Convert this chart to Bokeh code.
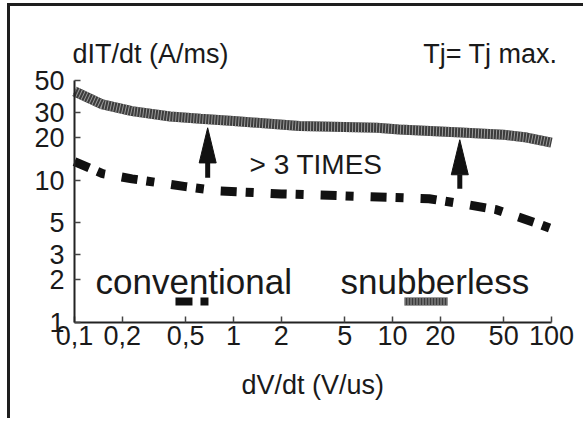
from bokeh.plotting import figure
from bokeh.models import Range1d, FixedTicker, Label
from bokeh.embed import file_html
from bokeh.resources import INLINE

# ---- data ----
x_ticks = [0.1, 0.2, 0.5, 1, 2, 5, 10, 20, 50, 100]
x_tick_labels = ["0,1", "0,2", "0,5", "1", "2", "5", "10", "20", "50", "100"]
y_ticks = [1, 2, 3, 5, 10, 20, 30, 50]
y_tick_labels = ["1", "2", "3", "5", "10", "20", "30", "50"]

snub_x = [0.1, 0.15, 0.23, 0.4, 0.62, 1, 2.6, 8, 11, 27, 50, 70, 100]
snub_y = [42, 34, 30.5, 28, 27, 26, 24, 23.3, 22.7, 21.6, 20.8, 19.9, 18.3]

conv_x = [0.1, 0.15, 0.23, 0.5, 0.8, 2, 5, 10, 17, 30, 45, 62, 80, 100]
conv_y = [13.5, 11.1, 10.2, 9.0, 8.4, 8.0, 7.75, 7.55, 7.4, 6.7, 6.2, 5.5, 5.0, 4.55]

arrow_x = [0.688, 26.5]
arrow_tip = [23.3, 19.2]
arrow_base = [13.2, 10.9]
arrow_tail = [10.4, 8.7]

legend_conv_x = [0.4316, 0.6966]
legend_snub_x = [11.9, 22.2]
legend_y = [1.404, 1.404]

# ---- layout geometry (page pixels) ----
HOST_X, HOST_Y, BORDER = 7, 3, 3
CX0, CY0 = HOST_X + BORDER, HOST_Y + BORDER      # canvas origin on page
W, H = 576, 415
AX_X0, X_DEC = 74, 159.0      # page x of 0.1, pixels per decade
AX_Y0, Y_DEC = 322, 142.4     # page y of 1, pixels per decade

def data_x(px):
    return 10 ** ((px - AX_X0) / X_DEC - 1)

def data_y(py):
    return 10 ** ((AX_Y0 - py) / Y_DEC)

p = figure(width=W, height=H, x_axis_type="log", y_axis_type="log",
           x_range=Range1d(data_x(CX0), data_x(CX0 + W)),
           y_range=Range1d(data_y(CY0 + H), data_y(CY0)),
           min_border=0, output_backend="svg", toolbar_location=None)
p.styles = {"margin-top": f"{HOST_Y}px", "margin-left": f"{HOST_X}px",
            "border-top": f"{BORDER}px solid #1e1e1e",
            "border-left": f"{BORDER}px solid #1e1e1e"}
p.outline_line_color = None
p.xgrid.visible = False
p.ygrid.visible = False
p.background_fill_color = "white"
p.border_fill_color = "white"

xa_, ya_ = p.xaxis[0], p.yaxis[0]
xa_.fixed_location = 1
xa_.bounds = (0.1, 100)
ya_.fixed_location = 0.1
ya_.bounds = (1, 50)
for ax in (xa_, ya_):
    ax.axis_line_color = "#222222"
    ax.axis_line_width = 2
    ax.major_tick_in = 6
    ax.major_tick_out = 0
    ax.major_tick_line_color = "#444444"
    ax.major_tick_line_width = 1.5
    ax.minor_tick_line_color = None
    ax.major_label_text_font = "Liberation Sans"
    ax.major_label_text_font_size = "27px"
    ax.major_label_text_color = "#1a1a1a"

xa_.ticker = FixedTicker(ticks=x_ticks)
ya_.ticker = FixedTicker(ticks=y_ticks)
xa_.major_label_overrides = {t: l for t, l in zip(x_ticks, x_tick_labels)}
ya_.major_label_overrides = {t: l for t, l in zip(y_ticks, y_tick_labels)}
xa_.major_label_standoff = 3
ya_.major_label_standoff = 10

# curves
p.line(snub_x, snub_y, line_color="#3c3c3c", line_width=10)
p.line(snub_x, snub_y, line_color="#9c9c9c", line_width=10, line_dash="1 2")
p.line(conv_x, conv_y, line_color="#111111", line_width=9, line_dash="16 9 8 17")

# arrows
for xa, tip, base, tail in zip(arrow_x, arrow_tip, arrow_base, arrow_tail):
    p.line([xa, xa], [tail, base], line_color="#111111", line_width=5)
    p.patch([xa / 1.131, xa, xa * 1.131], [base, tip, base],
            fill_color="#111111", line_color="#111111", line_width=1)

# legend samples
p.line(legend_conv_x, legend_y, line_color="#111111", line_width=8, line_dash="17 8 8 20")
p.line(legend_snub_x, legend_y, line_color="#3c3c3c", line_width=8)
p.line(legend_snub_x, legend_y, line_color="#9c9c9c", line_width=8, line_dash="1 2")

def lab(px, py, t, size, align="left"):
    p.add_layout(Label(x=data_x(px), y=data_y(py), text=t, text_font="Liberation Sans",
                       text_font_size=size, text_align=align,
                       text_baseline="alphabetic", text_color="#1a1a1a"))

lab(72, 53, "dIT/dt (A/ms)", "27px")
lab(557, 53, "Tj= Tj max.", "27px", "right")
lab(249, 164, "> 3 TIMES", "28px")
lab(95, 281, "conventional", "35px")
lab(340, 281, "snubberless", "35px")
lab(241, 384, "dV/dt (V/us)", "27px")

open("out.html", "w").write(file_html(p, INLINE))
